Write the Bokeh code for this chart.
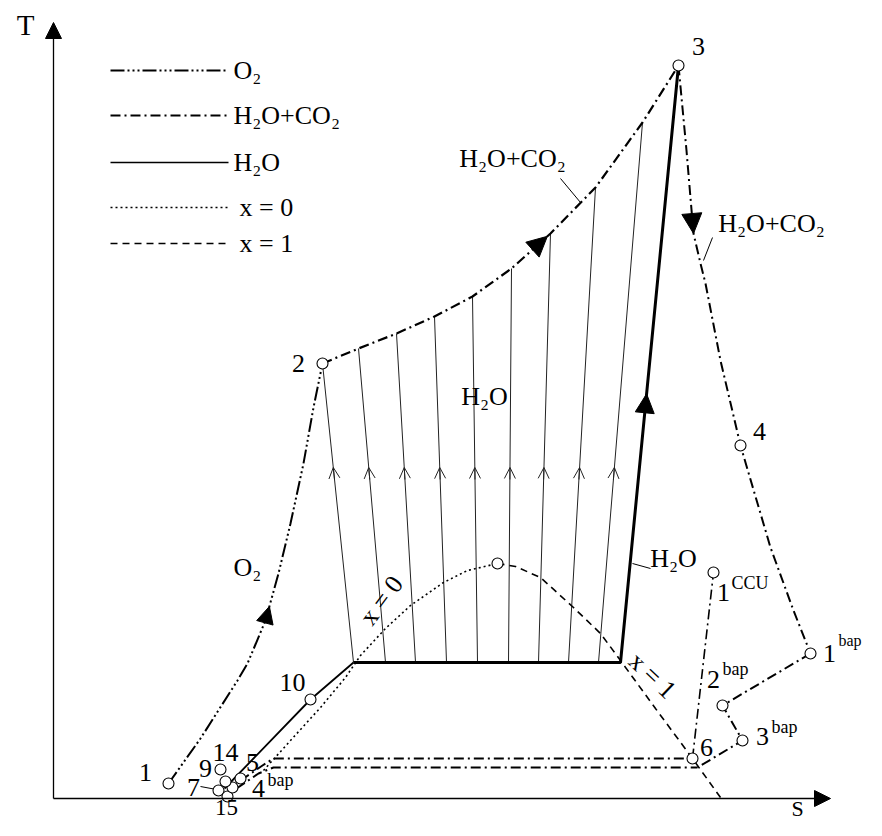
from bokeh.plotting import figure
from bokeh.models import Range1d, Arrow, NormalHead, OpenHead
from bokeh.core.properties import value
from bokeh.embed import file_html
from bokeh.resources import INLINE

FONT = value("Liberation Serif")

# ---- data (S to the right, T upward; pixel-like units, T axis flipped) ----
# O2 compression 1 -> 2
O2_S = [168, 200, 237, 247, 265, 278, 290, 303, 313, 322]
O2_T = [783, 738, 680, 663, 620, 573, 523, 463, 407, 363]
# H2O+CO2 heating 2 -> 3
TOP_S = [322, 358, 396, 434, 472, 511, 550, 595, 642, 678]
TOP_T = [363, 348, 333, 316, 296, 268, 233, 187, 122, 65]
# H2O+CO2 expansion 3 -> 4 -> 1bap
EXP_S = [678, 686, 693, 700, 705, 720, 740, 770, 793, 810]
EXP_T = [65, 150, 233, 263, 283, 360, 445, 547, 610, 653]
# 1bap -> 2bap -> 3bap -> 6
BAP_S = [810, 722, 742, 697]
BAP_T = [653, 705, 740, 767]
# 6 -> 1CCU
CCU_S = [692, 713]
CCU_T = [758, 572]
# low pressure lines toward point 6
LOW1_S = [240, 262, 273, 692]
LOW1_T = [780, 765, 758, 758]
LOW2_S = [236, 258, 273, 697]
LOW2_T = [788, 773, 767, 767]
# H2O: pump/heating 15 -> 10 -> evaporation -> superheat to 3
H2O_S = [224, 310, 353]
H2O_T = [788, 699, 662]
H2OB_S = [353, 620, 678]
H2OB_T = [662, 662, 65]
# thin heat transfer lines (bottom S, top S, top T), bottom at evaporation level
VL_BOT_S = [353, 385, 415, 446, 477, 508, 538, 568, 598]
VL_TOP_S = [322, 358, 396, 434, 472, 511, 550, 595, 642]
VL_TOP_T = [363, 348, 333, 316, 296, 268, 233, 187, 122]
VL_BOT_T = 662
VL_ARROW_T = 467
# saturation lines
X0_S = [263, 290, 320, 345, 360, 385, 410, 443, 467, 497]
X0_T = [770, 740, 707, 677, 655, 628, 605, 582, 570, 563]
X1_S = [497, 515, 540, 573, 600, 620, 655, 692, 720]
X1_T = [563, 566, 577, 607, 633, 660, 708, 758, 797]
# state points (circles)
PT_S = [168, 322, 678, 740, 310, 497, 713, 810, 722, 742, 692, 220, 218, 227, 240, 232, 225]
PT_T = [783, 363, 65, 445, 699, 563, 572, 653, 705, 740, 758, 769, 790, 796, 778, 787, 781]
# labels
LBL = ["1", "2", "3", "4", "10", "6", "1", "1", "2", "3", "14", "9", "7", "15", "5", "4"]
LBL_S = [145, 298, 698, 759, 292, 706, 723, 829, 713, 762, 225, 205, 193, 226, 252, 258]
LBL_T = [772, 363, 46, 431, 682, 747, 592, 653, 679, 736, 752, 768, 787, 807, 762, 788]
LBL_SIZE = ["26px"] * 13 + ["23px"] + ["26px"] * 2
SUP = ["CCU", "bap", "bap", "bap", "bap"]
SUP_S = [731, 838, 722, 771, 267]
SUP_T = [582, 640, 668, 726, 779]
SUP_SIZE = ["18px", "16px", "18px", "18px", "18px"]
NAMES = ["O₂", "H₂O", "H₂O+CO₂", "H₂O+CO₂", "H₂O", "x = 0", "x = 1"]
NAMES_S = [247, 484, 512, 771, 673, 381, 652]
NAMES_T = [567, 396, 158, 223, 558, 600, 675]
NAMES_ANGLE = [0, 0, 0, 0, 0, 0.93, -0.76]
# leader lines for labels (x0, y0, x1, y1)
LEAD_S0 = [560, 712, 632, 200]
LEAD_T0 = [178, 237, 563, 786]
LEAD_S1 = [580, 703, 650, 216]
LEAD_T1 = [202, 260, 568, 789]
# legend entries
LEG = ["O₂", "H₂O+CO₂", "H₂O", "x = 0", "x = 1"]
LEG_T = [70, 115, 162, 207, 243]
LEG_S0, LEG_S1, LEG_TXT_S = 110, 228, 233

O2_DASH = "14 3 2 3 2 3 2 3"
MIX_DASH = "10 4 2 4"
DOT_DASH = "2 3"
DASHED = "7 5"

p = figure(width=866, height=820, output_backend="svg", toolbar_location=None,
           x_range=Range1d(0, 866), y_range=Range1d(820, 0), min_border=0)
p.axis.visible = False
p.grid.visible = False
p.outline_line_color = None
p.background_fill_color = "white"
p.border_fill_color = "white"

# axes
p.add_layout(Arrow(end=NormalHead(size=16, fill_color="black", line_color="black"),
                   x_start=53, y_start=798, x_end=53, y_end=22, line_width=1.3))
p.add_layout(Arrow(end=NormalHead(size=16, fill_color="black", line_color="black"),
                   x_start=53, y_start=798, x_end=830, y_end=798, line_width=1.3))
p.text(x=[25], y=[24], text=["T"], text_font=FONT, text_font_size="29px",
       text_align="center", text_baseline="middle", text_color="black")
p.text(x=[797], y=[808], text=["S"], text_font=FONT, text_font_size="22px",
       text_align="center", text_baseline="middle", text_color="black")

# thin heat transfer lines
for i in range(len(VL_BOT_S)):
    p.line([VL_BOT_S[i], VL_TOP_S[i]], [VL_BOT_T, VL_TOP_T[i]], line_width=1, line_color="#222222")
    f = (VL_BOT_T - VL_ARROW_T) / (VL_BOT_T - VL_TOP_T[i])
    xa = VL_BOT_S[i] + f * (VL_TOP_S[i] - VL_BOT_S[i])
    f2 = (VL_BOT_T - VL_ARROW_T - 12) / (VL_BOT_T - VL_TOP_T[i])
    xb = VL_BOT_S[i] + f2 * (VL_TOP_S[i] - VL_BOT_S[i])
    p.add_layout(Arrow(end=OpenHead(size=11, line_width=1, line_color="#222222"),
                       x_start=xb, y_start=VL_ARROW_T + 12, x_end=xa, y_end=VL_ARROW_T,
                       line_width=1, line_color="#222222"))

# saturation lines
p.line(X0_S, X0_T, line_width=1.6, line_dash=DOT_DASH, line_color="black")
p.line(X1_S, X1_T, line_width=1.6, line_dash=DASHED, line_color="black")

# process lines
p.line(O2_S, O2_T, line_width=2, line_dash=O2_DASH, line_color="black")
p.line(TOP_S, TOP_T, line_width=2.2, line_dash=MIX_DASH, line_color="black")
p.line(EXP_S, EXP_T, line_width=2, line_dash=MIX_DASH, line_color="black")
p.line(BAP_S, BAP_T, line_width=2, line_dash=MIX_DASH, line_color="black")
p.line(CCU_S, CCU_T, line_width=1.6, line_dash=MIX_DASH, line_color="black")
p.line(LOW1_S, LOW1_T, line_width=2, line_dash=MIX_DASH, line_color="black")
p.line(LOW2_S, LOW2_T, line_width=2, line_dash=MIX_DASH, line_color="black")
p.line(H2O_S, H2O_T, line_width=1.8, line_color="black")
p.line(H2OB_S, H2OB_T, line_width=3, line_color="black")

# direction arrows on process lines (placed along the line data)
def arrow_on(xs, ys, k, t, size):
    x0, y0, x1, y1 = xs[k], ys[k], xs[k + 1], ys[k + 1]
    xe, ye = x0 + t * (x1 - x0), y0 + t * (y1 - y0)
    p.add_layout(Arrow(end=NormalHead(size=size, fill_color="black", line_color="black"),
                       x_start=x0, y_start=y0, x_end=xe, y_end=ye, line_alpha=0))

arrow_on(O2_S, O2_T, 4, 0.3, 17)
arrow_on(TOP_S, TOP_T, 5, 0.92, 20)
arrow_on(EXP_S, EXP_T, 1, 1.0, 20)
arrow_on(H2OB_S, H2OB_T, 1, 0.45, 19)

# leader lines
p.segment(LEAD_S0, LEAD_T0, LEAD_S1, LEAD_T1, line_width=1, line_color="black")

# state points
p.scatter(PT_S, PT_T, size=11, marker="circle", fill_color="white", line_color="black", line_width=1.1)

# labels
p.text(x=LBL_S, y=LBL_T, text=LBL, text_font=FONT, text_font_size=LBL_SIZE,
       text_align="center", text_baseline="middle", text_color="black")
p.text(x=SUP_S, y=SUP_T, text=SUP, text_font=FONT, text_font_size=SUP_SIZE,
       text_align="left", text_baseline="middle", text_color="black")
p.text(x=NAMES_S, y=NAMES_T, text=NAMES, angle=NAMES_ANGLE, text_font=FONT, text_font_size="26px",
       text_align="center", text_baseline="middle", text_color="black")

# legend (drawn by hand)
styles = [(O2_DASH, 2), (MIX_DASH, 2), ("solid", 1.6), (DOT_DASH, 1.4), (DASHED, 1.6)]
for t, (d, w) in zip(LEG_T, styles):
    p.line([LEG_S0, LEG_S1], [t, t], line_dash=d, line_width=w, line_color="black")
p.text(x=[LEG_TXT_S] * 3 + [LEG_TXT_S + 6] * 2, y=LEG_T, text=LEG, text_font=FONT,
       text_font_size="26px", text_align="left", text_baseline="middle", text_color="black")

open("out.html", "w").write(file_html(p, INLINE))
